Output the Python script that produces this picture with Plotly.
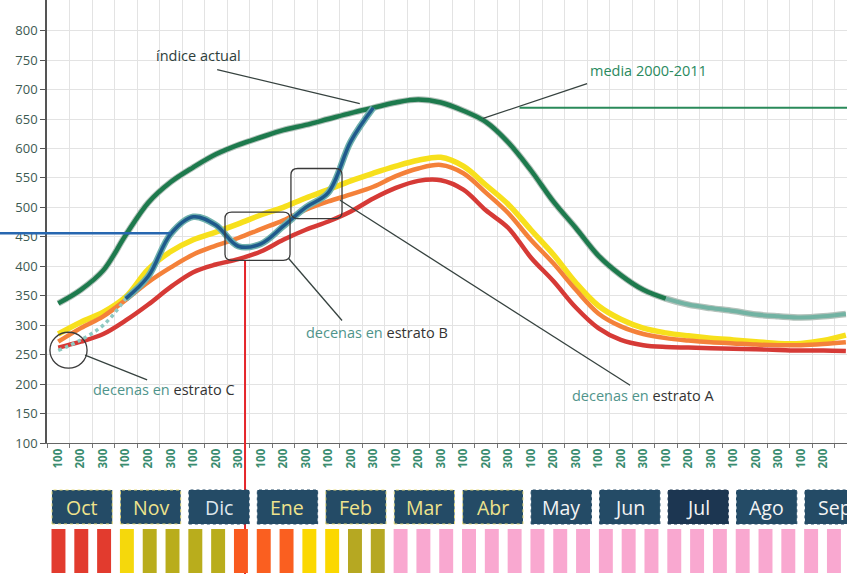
import plotly.graph_objects as go

# ---------------- data ----------------
decade_labels = ["100", "200", "300"] * 12
months = ["Oct", "Nov", "Dic", "Ene", "Feb", "Mar", "Abr", "May", "Jun", "Jul", "Ago", "Sep"]

media_2000_2011 = [337, 360, 393, 453, 508, 543, 568, 590, 606, 619, 631, 640,
                   650, 660, 669, 678, 683, 678, 664, 645, 610, 563, 510, 465,
                   418, 385, 360, 345, 335, 329, 324, 318, 315, 313, 315, 319]
estrato_a = [285, 305, 322, 348, 395, 425, 445, 458, 472, 487, 500, 516,
             530, 545, 558, 570, 580, 585, 570, 538, 505, 462, 420, 372,
             333, 310, 295, 287, 282, 278, 275, 272, 269, 269, 274, 283]
estrato_b = [272, 295, 315, 343, 373, 398, 420, 435, 448, 463, 478, 496,
             510, 522, 535, 553, 566, 572, 558, 525, 490, 445, 405, 360,
             320, 298, 285, 278, 274, 271, 269, 267, 266, 266, 268, 271]
estrato_c = [262, 272, 285, 308, 335, 365, 390, 403, 412, 425, 445, 462,
             476, 493, 515, 533, 545, 546, 530, 495, 465, 415, 375, 330,
             295, 275, 266, 263, 262, 261, 260, 259, 258, 257, 257, 256]
indice_actual = [257, 275, 300, 345, 383, 455, 484, 470, 434, 438, 468, 500,
                 525, 612, 669]

bar_colors = (["#e23b2e"] * 3
              + ["#f5d80c", "#b9ad1c", "#b9ad1c"]
              + ["#b9ad1c", "#b9ad1c", "#f95a1f"]
              + ["#fa5f20", "#fa5f20", "#fbd800"]
              + ["#fbd800", "#b6a822", "#b6a822"]
              + ["#f9a8d0"] * 21)
month_box_colors = ["#244b66"] * 9 + ["#1c3651"] + ["#244b66"] * 2
month_text_colors = ["#efe38c", "#efe38c", "#dfe7ec", "#efe38c", "#efe38c", "#efe38c",
                     "#efe38c", "#f4f4f4", "#f4f4f4", "#f4f4f4", "#f4f4f4", "#f4f4f4"]
month_box_border = ["#e8dc7a", "#e8dc7a", "#244b66", "#244b66", "#e8dc7a", "#e8dc7a",
                    "#e8dc7a", "#244b66", "#244b66", "#1c3651", "#244b66", "#244b66"]

# ---------------- layout constants ----------------
W, H = 847, 574
ML, MB = 47, 131
X_RANGE = [-0.5, 35.05]
Y_RANGE = [100, 852]
PLOT_H = H - MB
FONT = "Open Sans"
LEGEND_SCALE = 1.0135  # bottom strip is drawn slightly wider than the plot scale


def ypix_to_paper(py):
    return (PLOT_H - py) / PLOT_H


def x_to_paper(xv):
    return (xv - X_RANGE[0]) / (X_RANGE[1] - X_RANGE[0])


def y_to_paper(yv):
    return (yv - Y_RANGE[0]) / (Y_RANGE[1] - Y_RANGE[0])


def rounded_rect(x0, x1, y0, y1, rx, ry):
    return (f"M {x0+rx},{y0} L {x1-rx},{y0} Q {x1},{y0} {x1},{y0+ry} "
            f"L {x1},{y1-ry} Q {x1},{y1} {x1-rx},{y1} L {x0+rx},{y1} "
            f"Q {x0},{y1} {x0},{y1-ry} L {x0},{y0+ry} Q {x0},{y0} {x0+rx},{y0} Z")


xs = list(range(len(decade_labels)))
fig = go.Figure()

spl = dict(shape="spline", smoothing=1.0)

# media 2000-2011 (outline + main, fading at the end)
fig.add_trace(go.Scatter(x=xs, y=media_2000_2011, mode="lines",
                         line=dict(color="#b4c2bb", width=6.5, **spl), hoverinfo="skip"))
fig.add_trace(go.Scatter(x=xs[:28], y=media_2000_2011[:28], mode="lines",
                         line=dict(color="#1d7a4d", width=4.5, **spl)))
fig.add_trace(go.Scatter(x=xs[27:], y=media_2000_2011[27:], mode="lines",
                         line=dict(color="#72b3a3", width=4, **spl)))

# strata curves
fig.add_trace(go.Scatter(x=xs, y=estrato_a, mode="lines",
                         line=dict(color="#f7e01c", width=5.5, **spl)))
fig.add_trace(go.Scatter(x=xs, y=estrato_b, mode="lines",
                         line=dict(color="#f4813a", width=4.5, **spl)))
fig.add_trace(go.Scatter(x=xs, y=estrato_c, mode="lines",
                         line=dict(color="#d63a36", width=4.5, **spl)))

# indice actual
xa = xs[:len(indice_actual)]
fig.add_trace(go.Scatter(x=xa[:4], y=indice_actual[:4], mode="lines",
                         line=dict(color="#8fc9c1", width=3.5, dash="dot", **spl)))
fig.add_trace(go.Scatter(x=xa[3:], y=indice_actual[3:], mode="lines",
                         line=dict(color="#6fb1ad", width=6.5, **spl)))
fig.add_trace(go.Scatter(x=xa[3:], y=indice_actual[3:], mode="lines",
                         line=dict(color="#1f5a8c", width=3.5, **spl)))

shapes = []
annotations = []

# reference horizontal lines
shapes.append(dict(type="line", xref="paper", yref="y",
                   x0=x_to_paper(-2.6), x1=x_to_paper(5.0), y0=456, y1=456,
                   line=dict(color="#2767b0", width=2.5)))
shapes.append(dict(type="line", xref="x", yref="y", x0=20.5, x1=35.5, y0=669, y1=669,
                   line=dict(color="#2a8a5a", width=2)))
# red vertical marker
shapes.append(dict(type="line", xref="x", yref="paper", x0=8.3, x1=8.3,
                   y0=ypix_to_paper(H + 5), y1=y_to_paper(410),
                   line=dict(color="#e5262a", width=2)))

# highlight boxes / circle
shapes.append(dict(type="path", xref="x", yref="y",
                   path=rounded_rect(7.41, 10.3, 410, 492, 0.3, 11),
                   line=dict(color="#3a3a3a", width=1.3)))
shapes.append(dict(type="path", xref="x", yref="y",
                   path=rounded_rect(10.34, 12.61, 481, 566, 0.3, 11),
                   line=dict(color="#3a3a3a", width=1.3)))
shapes.append(dict(type="circle", xref="x", yref="y", x0=-0.37, x1=1.28, y0=227, y1=288,
                   line=dict(color="#3a3a3a", width=1.3)))

# leader lines
lead = dict(color="#36423f", width=1.3)
for (x0, y0, x1, y1) in [(7.06, 734, 13.4, 676), (23.5, 710, 18.88, 651),
                         (10.22, 414, 12.61, 308), (1.19, 249, 3.95, 207),
                         (12.52, 512, 25.41, 198)]:
    shapes.append(dict(type="line", xref="x", yref="y", x0=x0, y0=y0, x1=x1, y1=y1, line=lead))

# labels
def add_label(x, y, text, color="#2f3d3a", size=14.5):
    annotations.append(dict(x=x, y=y, xref="x", yref="y", text=text, showarrow=False,
                            font=dict(family=FONT, size=size, color=color)))

teal = "#4f948b"
add_label(6.22, 758, "índice actual", color="#2e3e3b")
add_label(26.25, 732, "media 2000-2011", color="#2a8a5e")
add_label(14.16, 288, f"<span style='color:{teal}'>decenas en</span> estrato B", color="#333")
add_label(4.7, 190, f"<span style='color:{teal}'>decenas en</span> estrato C", color="#333")
add_label(26.0, 180, f"<span style='color:{teal}'>decenas en</span> estrato A", color="#333")

# bottom strip: month boxes
box_y0, box_y1 = ypix_to_paper(524), ypix_to_paper(490)
for m, name in enumerate(months):
    bx0 = 3.042 * m - 0.28
    bx1 = bx0 + 2.68
    shapes.append(dict(type="rect", xref="x", yref="paper", x0=bx0, x1=bx1,
                       y0=box_y0, y1=box_y1, fillcolor=month_box_colors[m],
                       line=dict(color=month_box_border[m], width=1, dash="dot")))
    annotations.append(dict(x=(bx0 + bx1) / 2, y=(box_y0 + box_y1) / 2, xref="x", yref="paper",
                            text=name, showarrow=False, yanchor="middle",
                            font=dict(family=FONT, size=19.5, color=month_text_colors[m])))

# bottom strip: decade bars
bar_y0, bar_y1 = ypix_to_paper(573), ypix_to_paper(529)
for i, c in enumerate(bar_colors):
    cx = i * LEGEND_SCALE + 0.01
    shapes.append(dict(type="rect", xref="x", yref="paper", x0=cx - 0.31, x1=cx + 0.31,
                       y0=bar_y0, y1=bar_y1, fillcolor=c, line=dict(width=0)))

fig.update_layout(
    width=W, height=H,
    margin=dict(l=ML, r=0, t=0, b=MB),
    paper_bgcolor="white", plot_bgcolor="white",
    showlegend=False,
    shapes=shapes, annotations=annotations,
    font=dict(family=FONT),
    xaxis=dict(range=X_RANGE, tickmode="array", tickvals=xs, ticktext=decade_labels,
               tickangle=-90, tickfont=dict(family=FONT, size=11.5, color="#3a8c6f", weight=700),
               showgrid=False, zeroline=False, ticks="",
               showline=True, linecolor="#666", linewidth=1.3,
               minor=dict(tick0=0.5, dtick=1, showgrid=True, gridcolor="#e3e3e3",
                          ticks="outside", ticklen=4, tickcolor="#777")),
    yaxis=dict(range=Y_RANGE, tickmode="array", tickvals=list(range(100, 801, 50)),
               tickfont=dict(family=FONT, size=13, color="#3d5a52"),
               showgrid=True, gridcolor="#e3e3e3", zeroline=False,
               ticks="outside", ticklen=5, tickcolor="#555",
               showline=True, linecolor="#555", linewidth=1.5),
)

fig.write_html("out.html", config={"displayModeBar": False},
               post_script="document.body.style.margin='0';document.body.style.overflow='hidden';")
